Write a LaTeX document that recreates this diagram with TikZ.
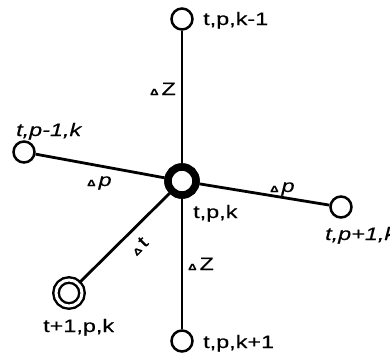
\documentclass[tikz,border=0pt]{standalone}
\usepackage{fontspec}
\setmainfont[FakeStretch=1.3, FakeBold=0.3]{Liberation Sans}
\usepackage{tikz}
\usetikzlibrary{positioning}

\newcommand{\dtri}{{\fontsize{9}{9}\selectfont\bfseries Δ}}

\begin{document}
\begin{tikzpicture}[x=1pt, y=-1pt,
            pt/.style={circle, draw=black, fill=white, line width=2.5pt, minimum size=21pt, inner sep=0pt},
            centre/.style={circle, draw=black, fill=white, line width=7.5pt, minimum size=28pt, inner sep=0pt},
            future/.style={circle, draw=black, double=white, double distance=3pt, line width=2.4pt, minimum size=26pt, inner sep=0pt},
            link/.style={line width=2.8pt, black},
            lbl/.style={font=\fontsize{18}{18}\selectfont, inner sep=0pt, anchor=base west},
            dlbl/.style={font=\fontsize{18}{18}\selectfont, inner sep=0pt}
        ]
            \useasboundingbox (0,0) rectangle (390,360);

            % --- nodes ---
            \node[pt] (up) at (182,19) {};
            \node[pt] (back) at (24,152) {};
            \node[pt] (fwd) at (341,207) {};
            \node[pt] (down) at (182,341) {};
            \node[future] (next) at (69,293) {};
            \node[centre] (here) at (182,181) {};

            % --- links ---
            \draw[link] (here) -- (up);
            \draw[link] (here) -- (back);
            \draw[link] (here) -- (fwd);
            \draw[link] (here) -- (down);
            \draw[link] (here) -- (next);
            % redraw the centre on top
            \node[centre] at (here) {};

            % --- node labels ---
            \node[lbl] (lup) at (203,25) {t,p,k-1};
            \node[lbl] (lback) at (16,136) {\itshape t,p-1,k};
            \node[lbl] (lhere) at (193,218) {t,p,k};
            \node[lbl] (lfwd) at (325,240) {\itshape t,p+1,k};
            \node[lbl] (lnext) at (43,332) {t+1,p,k};
            \node[lbl] (ldown) at (203,348) {t,p,k+1};

            % --- step labels ---
            \node[dlbl, anchor=base east] (dzup) at (176,95) {\dtri\,Z};
            \node[dlbl, anchor=base west] (dzdown) at (188,270) {\dtri\,Z};
            \node[dlbl, anchor=base west] (dpback) at (87,186) {\dtri\,\itshape p};
            \node[dlbl, anchor=base west] (dpfwd) at (270,192) {\dtri\,\itshape p};
            \node[dlbl, rotate=45] (dt) at (139,246) {\dtri\,t};
        \end{tikzpicture}
\end{document}
